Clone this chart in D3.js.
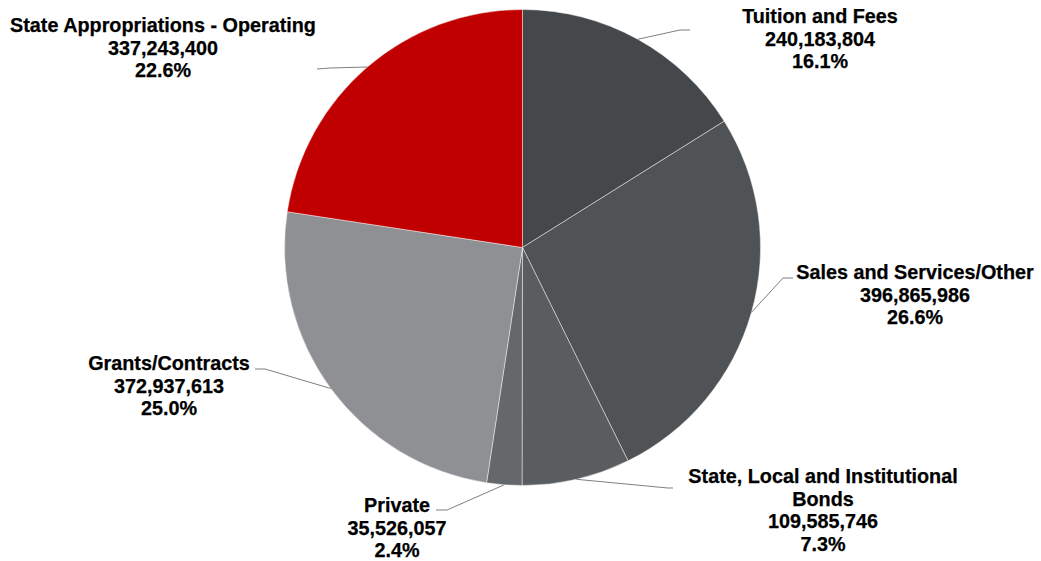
<!DOCTYPE html>
<html>
<head>
<meta charset="utf-8">
<script src="https://cdn.jsdelivr.net/npm/d3@7"></script>
<style>
  html, body { margin: 0; padding: 0; background: #fff; }
  svg { display: block; }
  .lbl { font-family: "Liberation Sans", Arial, sans-serif; font-weight: bold; font-size: 19.8px; fill: #000; stroke: #000; stroke-width: 0.25px; }
</style>
</head>
<body>
<svg id="chart" width="1041" height="561"></svg>
<script>
// Revenue sources, clockwise from 12 o'clock
const categories = [
  "Tuition and Fees",
  "Sales and Services/Other",
  "State, Local and Institutional Bonds",
  "Private",
  "Grants/Contracts",
  "State Appropriations - Operating"
];
const values = [240183804, 396865986, 109585746, 35526057, 372937613, 337243400];
const colors = ["#45484b", "#505356", "#5a5d60", "#65686b", "#8e9094", "#c00000"];

// Label text lines (name split where it wraps)
const nameLines = [
  ["Tuition and Fees"],
  ["Sales and Services/Other"],
  ["State, Local and Institutional", "Bonds"],
  ["Private"],
  ["Grants/Contracts"],
  ["State Appropriations - Operating"]
];

// Layout: label block centre x / first-line y, and leader elbow / end points
const labelLayout = [
  { x: 820, y: 16,  elbow: [680, 30],  end: [690, 30] },
  { x: 915, y: 272, elbow: [783, 278], end: [793, 278] },
  { x: 823, y: 476, elbow: [668, 488], end: [673, 488] },
  { x: 397, y: 505, elbow: [447, 510], end: [436, 510] },
  { x: 169, y: 363, elbow: [265, 369], end: [255, 369] },
  { x: 163, y: 25,  elbow: [330, 68],  end: [317, 69] }
];

const W = 1041, H = 561;
const cx = 522.5, cy = 247.5, R = 238;
const lineH = 22.7;

const svg = d3.select("#chart");
const total = d3.sum(values);
const fmtNum = d3.format(",");
const fmtPct = d3.format(".1%");

const pie = d3.pie().sort(null).value(d => d);
const arcs = pie(values);
const arc = d3.arc().innerRadius(0).outerRadius(R);
const edgeArc = d3.arc().innerRadius(R).outerRadius(R);

const g = svg.append("g").attr("transform", `translate(${cx},${cy})`);

g.selectAll("path.slice")
  .data(arcs)
  .join("path")
  .attr("class", "slice")
  .attr("d", arc)
  .attr("fill", (d, i) => colors[i])
  .attr("stroke", "rgba(255,255,255,0.55)")
  .attr("stroke-width", 0.8)
  .attr("stroke-linejoin", "round");

// Leader lines from the slice edge midpoint to the label
svg.append("g")
  .selectAll("polyline")
  .data(arcs)
  .join("polyline")
  .attr("fill", "none")
  .attr("stroke", "#7f7f7f")
  .attr("stroke-width", 1)
  .attr("points", (d, i) => {
    const c = edgeArc.centroid(d);
    const L = labelLayout[i];
    return [[c[0] + cx, c[1] + cy], L.elbow, L.end].map(p => p.join(",")).join(" ");
  });

// Labels: name, value, percentage
const labels = svg.append("g");
arcs.forEach((d, i) => {
  const L = labelLayout[i];
  const lines = [...nameLines[i], fmtNum(values[i]), fmtPct(values[i] / total)];
  const t = labels.append("text")
    .attr("class", "lbl")
    .attr("text-anchor", "middle")
    .attr("dominant-baseline", "central");
  lines.forEach((s, k) => {
    t.append("tspan")
      .attr("x", L.x)
      .attr("y", L.y + k * lineH)
      .text(s);
  });
});
</script>
</body>
</html>
